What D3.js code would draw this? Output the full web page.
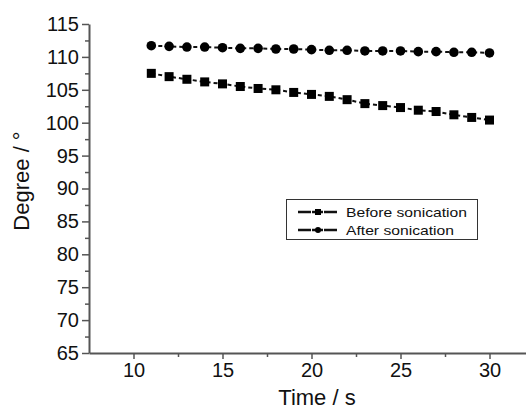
<!DOCTYPE html>
<html>
<head>
<meta charset="utf-8">
<script src="https://cdn.jsdelivr.net/npm/d3@7"></script>
<style>
  body { margin: 0; background: #fff; }
  svg { display: block; font-family: Arial, "Liberation Sans", sans-serif; }
</style>
</head>
<body>
<script>
// time in seconds
var times = [11, 12, 13, 14, 15, 16, 17, 18, 19, 20, 21, 22, 23, 24, 25, 26, 27, 28, 29, 30];
// contact angle, degrees
var beforeSonication = [107.5, 107.0, 106.6, 106.2, 105.9, 105.5, 105.2, 105.0, 104.6, 104.3,
                        104.0, 103.5, 102.9, 102.6, 102.3, 101.9, 101.7, 101.2, 100.8, 100.4];
var afterSonication = [111.7, 111.6, 111.5, 111.5, 111.4, 111.3, 111.3, 111.2, 111.2, 111.1,
                       111.0, 111.0, 110.9, 110.9, 110.9, 110.8, 110.8, 110.7, 110.7, 110.6];
var seriesNames = ["Before sonication", "After sonication"];
var xTicks = [10, 15, 20, 25, 30];
var xMinor = [12.5, 17.5, 22.5, 27.5];
var yTicks = [65, 70, 75, 80, 85, 90, 95, 100, 105, 110, 115];
var yMinor = [67.5, 72.5, 77.5, 82.5, 87.5, 92.5, 97.5, 102.5, 107.5, 112.5];

var width = 526, height = 409;
var plotLeft = 89, plotRight = 534, plotTop = 24, plotBottom = 353;

var svg = d3.select("body").append("svg")
    .attr("width", width)
    .attr("height", height);

var x = d3.scaleLinear().domain([7.5, 32.5]).range([plotLeft, plotRight]);
var y = d3.scaleLinear().domain([65, 115]).range([plotBottom, plotTop]);

var axisColor = "#555";

// minor ticks first, then major ticks with labels
svg.append("g")
    .attr("transform", "translate(0," + plotBottom + ")")
    .call(d3.axisBottom(x).tickValues(xMinor).tickSize(4).tickSizeOuter(0).tickFormat(""))
    .call(function(g) { g.select(".domain").remove(); });

svg.append("g")
    .attr("transform", "translate(" + plotLeft + ",0)")
    .call(d3.axisLeft(y).tickValues(yMinor).tickSize(4).tickSizeOuter(0).tickFormat(""))
    .call(function(g) { g.select(".domain").remove(); });

var xAxis = svg.append("g")
    .attr("transform", "translate(0," + plotBottom + ")")
    .call(d3.axisBottom(x).tickValues(xTicks).tickSize(6).tickSizeOuter(0).tickPadding(4));

var yAxis = svg.append("g")
    .attr("transform", "translate(" + plotLeft + ",0)")
    .call(d3.axisLeft(y).tickValues(yTicks).tickSize(7).tickSizeOuter(0).tickPadding(3));

svg.selectAll(".tick line").attr("stroke", axisColor).attr("stroke-width", 1.5);
svg.selectAll(".domain").attr("stroke", axisColor).attr("stroke-width", 2);
xAxis.selectAll("text").attr("font-size", 20).attr("fill", "#111").attr("font-family", "Arial, Liberation Sans, sans-serif");
yAxis.selectAll("text").attr("font-size", 20).attr("fill", "#111").attr("font-family", "Arial, Liberation Sans, sans-serif");

// axis titles
svg.append("text")
    .attr("x", 317)
    .attr("y", 405)
    .attr("text-anchor", "middle")
    .attr("font-size", 22)
    .attr("fill", "#111")
    .text("Time / s");

svg.append("text")
    .attr("transform", "translate(29,181) rotate(-90)")
    .attr("text-anchor", "middle")
    .attr("font-size", 22)
    .attr("fill", "#111")
    .text("Degree / \u00b0");

// data lines
var line = d3.line()
    .x(function(d) { return x(d[0]); })
    .y(function(d) { return y(d[1]); });

var beforeData = d3.zip(times, beforeSonication);
var afterData = d3.zip(times, afterSonication);

[beforeData, afterData].forEach(function(data) {
  svg.append("path")
      .datum(data)
      .attr("fill", "none")
      .attr("stroke", "#111")
      .attr("stroke-width", 2)
      .attr("stroke-dasharray", "4,3")
      .attr("d", line);
});

svg.selectAll(".sq")
    .data(beforeData)
  .enter().append("rect")
    .attr("class", "sq")
    .attr("x", function(d) { return x(d[0]) - 4.5; })
    .attr("y", function(d) { return y(d[1]) - 4.5; })
    .attr("width", 9)
    .attr("height", 9)
    .attr("fill", "#000");

svg.selectAll(".dot")
    .data(afterData)
  .enter().append("circle")
    .attr("class", "dot")
    .attr("cx", function(d) { return x(d[0]); })
    .attr("cy", function(d) { return y(d[1]); })
    .attr("r", 4.8)
    .attr("fill", "#000");

// legend
var legend = svg.append("g");
legend.append("rect")
    .attr("x", 286.5).attr("y", 199.5)
    .attr("width", 191).attr("height", 40)
    .attr("fill", "#fff")
    .attr("stroke", "#333")
    .attr("stroke-width", 1);

seriesNames.forEach(function(name, i) {
  var ly = 212 + i * 18;
  legend.append("line")
      .attr("x1", 298).attr("x2", 337)
      .attr("y1", ly).attr("y2", ly)
      .attr("stroke", "#111")
      .attr("stroke-width", 2.5)
      .attr("stroke-dasharray", "13,1,11,1,13");
  if (i === 0) {
    legend.append("rect")
        .attr("x", 315).attr("y", ly - 3)
        .attr("width", 6).attr("height", 6)
        .attr("fill", "#000");
  } else {
    legend.append("circle")
        .attr("cx", 318).attr("cy", ly)
        .attr("r", 3)
        .attr("fill", "#000");
  }
  legend.append("text")
      .attr("x", 346)
      .attr("y", ly + 4.5)
      .attr("font-size", 13)
      .attr("fill", "#111")
      .attr("textLength", i === 0 ? 121 : 108)
      .attr("lengthAdjust", "spacingAndGlyphs")
      .text(name);
});
</script>
</body>
</html>
